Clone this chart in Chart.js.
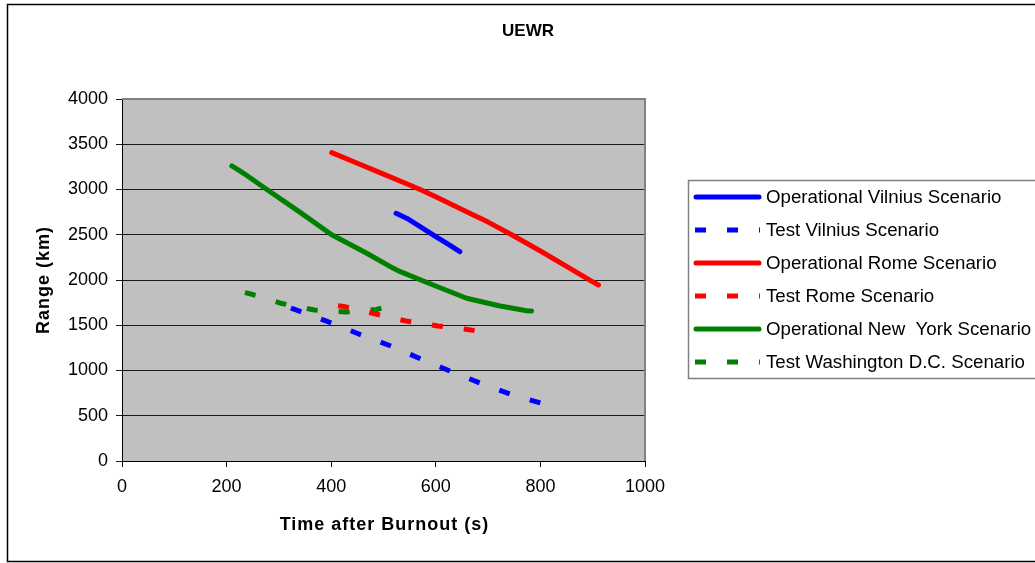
<!DOCTYPE html>
<html>
<head>
<meta charset="utf-8">
<script src="https://cdn.jsdelivr.net/npm/chart.js@4/dist/chart.umd.min.js"></script>
<style>
  html, body { margin: 0; padding: 0; background: #fff; }
  canvas { display: block; }
</style>
</head>
<body>
<canvas id="chart" width="1035" height="563"></canvas>
<script>
const chartTitle = 'UEWR';
const xTitle = 'Time after Burnout (s)';
const yTitle = 'Range (km)';

const seriesNames = [
  'Operational Vilnius Scenario',
  'Test Vilnius Scenario',
  'Operational Rome Scenario',
  'Test Rome Scenario',
  'Operational New  York Scenario',
  'Test Washington D.C. Scenario'
];
const seriesColors = ['#0000FF', '#0000FF', '#FF0000', '#FF0000', '#008000', '#008000'];
const seriesDashed = [false, true, false, true, false, true];

const opVilniusX = [524, 545, 570, 600, 625, 646];
const opVilniusY = [2737, 2680, 2589, 2480, 2390, 2313];
const testVilniusX = [323, 333, 394, 453, 514, 573, 633, 694, 753, 809, 816];
const testVilniusY = [1690, 1669, 1539, 1403, 1271, 1124, 980, 840, 718, 627, 610];
const opRomeX = [401, 450, 500, 550, 570, 600, 650, 700, 745, 800, 850, 900, 911];
const opRomeY = [3407, 3290, 3170, 3050, 3000, 2920, 2780, 2640, 2500, 2320, 2150, 1980, 1945];
const testRomeX = [413, 424, 485, 543, 604, 664, 675];
const testRomeY = [1715, 1707, 1624, 1547, 1492, 1451, 1440];
const opNewYorkX = [210, 220, 240, 277, 340, 401, 468, 519, 532, 595, 659, 723, 774, 783];
const opNewYorkY = [3260, 3225, 3150, 3000, 2750, 2500, 2295, 2129, 2092, 1945, 1798, 1713, 1661, 1657];
const testWashX = [235, 247, 306, 368, 427, 487, 497];
const testWashY = [1860, 1845, 1740, 1669, 1646, 1674, 1690];

const xTicks = [0, 200, 400, 600, 800, 1000];
const yTicks = [0, 500, 1000, 1500, 2000, 2500, 3000, 3500, 4000];

const allX = [opVilniusX, testVilniusX, opRomeX, testRomeX, opNewYorkX, testWashX];
const allY = [opVilniusY, testVilniusY, opRomeY, testRomeY, opNewYorkY, testWashY];

const FONT = '"Liberation Sans", Arial, sans-serif';

function toPoints(xs, ys) {
  return xs.map((x, i) => ({ x: x, y: ys[i] }));
}

const datasets = seriesNames.map((name, i) => ({
  label: name,
  data: toPoints(allX[i], allY[i]),
  borderColor: seriesColors[i],
  backgroundColor: seriesColors[i],
  borderWidth: 5,
  borderDash: seriesDashed[i] ? [11, 21] : [],
  borderCapStyle: seriesDashed[i] ? 'butt' : 'round',
  borderJoinStyle: 'round',
  pointRadius: 0,
  showLine: true,
  tension: 0
}));

const decorPlugin = {
  id: 'decor',
  beforeDatasetsDraw(chart) {
    const ctx = chart.ctx;
    const a = chart.chartArea;
    ctx.save();
    // plot border top/right
    ctx.strokeStyle = '#808080';
    ctx.lineWidth = 2;
    ctx.beginPath();
    ctx.moveTo(a.left, a.top);
    ctx.lineTo(a.right, a.top);
    ctx.lineTo(a.right, a.bottom);
    ctx.stroke();
    ctx.restore();
  },
  beforeDraw(chart) {
    const ctx = chart.ctx;
    const a = chart.chartArea;
    ctx.save();
    ctx.fillStyle = '#fff';
    ctx.fillRect(0, 0, chart.width, chart.height);
    ctx.fillStyle = '#C0C0C0';
    ctx.fillRect(a.left, a.top, a.right - a.left, a.bottom - a.top);
    ctx.restore();
  },
  afterDraw(chart) {
    const ctx = chart.ctx;
    const a = chart.chartArea;
    ctx.save();
    // outer frame
    ctx.strokeStyle = '#000';
    ctx.lineWidth = 1.5;
    ctx.strokeRect(7.5, 4.5, 1100, 557);

    // titles
    ctx.fillStyle = '#000';
    ctx.textAlign = 'center';
    ctx.textBaseline = 'middle';
    ctx.font = 'bold 17px ' + FONT;
    ctx.fillText(chartTitle, 528, 31);
    ctx.font = 'bold 18px ' + FONT;
    ctx.letterSpacing = '1px';
    ctx.fillText(xTitle, (a.left + a.right) / 2 + 1, 525);
    ctx.save();
    ctx.translate(44, (a.top + a.bottom) / 2);
    ctx.rotate(-Math.PI / 2);
    ctx.fillText(yTitle, 0, 0);
    ctx.restore();
    ctx.letterSpacing = '0px';

    // legend
    ctx.strokeStyle = '#808080';
    ctx.lineWidth = 1.5;
    ctx.strokeRect(688.5, 180.5, 500, 198);
    ctx.font = '18.7px ' + FONT;
    ctx.textAlign = 'left';
    chart.data.datasets.forEach((ds, i) => {
      const y = 197 + i * 33;
      ctx.strokeStyle = ds.borderColor;
      ctx.lineWidth = 5;
      if (ds.borderDash.length) {
        ctx.setLineDash(ds.borderDash);
        ctx.lineCap = 'butt';
        ctx.beginPath();
        ctx.moveTo(695, y);
        ctx.lineTo(760, y);
        ctx.stroke();
        ctx.setLineDash([]);
      } else {
        ctx.lineCap = 'round';
        ctx.beginPath();
        ctx.moveTo(696, y);
        ctx.lineTo(759, y);
        ctx.stroke();
      }
      ctx.fillStyle = '#000';
      ctx.fillText(ds.label, 766, y + 1);
    });
    ctx.restore();
  }
};

new Chart(document.getElementById('chart').getContext('2d'), {
  type: 'scatter',
  data: { datasets: datasets },
  options: {
    responsive: false,
    animation: false,
    layout: { padding: { left: 0, top: 99, right: 390, bottom: 0 } },
    plugins: {
      legend: { display: false },
      title: { display: false },
      tooltip: { enabled: false }
    },
    scales: {
      x: {
        type: 'linear',
        min: 0,
        max: 1000,
        afterBuildTicks: s => { s.ticks = xTicks.map(v => ({ value: v })); },
        afterFit: s => { s.height = 102; },
        grid: { drawOnChartArea: false, drawTicks: true, tickLength: 6, color: '#000' },
        border: { display: true, color: '#000', width: 1 },
        ticks: { color: '#000', padding: 9, maxRotation: 0, font: { family: FONT, size: 18 }, callback: v => String(v) }
      },
      y: {
        type: 'linear',
        min: 0,
        max: 4000,
        afterBuildTicks: s => { s.ticks = yTicks.map(v => ({ value: v })); },
        afterFit: s => { s.width = 122; },
        grid: { drawOnChartArea: true, drawTicks: true, tickLength: 6, color: '#1a1a1a', lineWidth: 1 },
        border: { display: true, color: '#000', width: 1 },
        ticks: { color: '#000', padding: 8, font: { family: FONT, size: 18 }, callback: v => String(v) }
      }
    }
  },
  plugins: [decorPlugin]
});
</script>
</body>
</html>
